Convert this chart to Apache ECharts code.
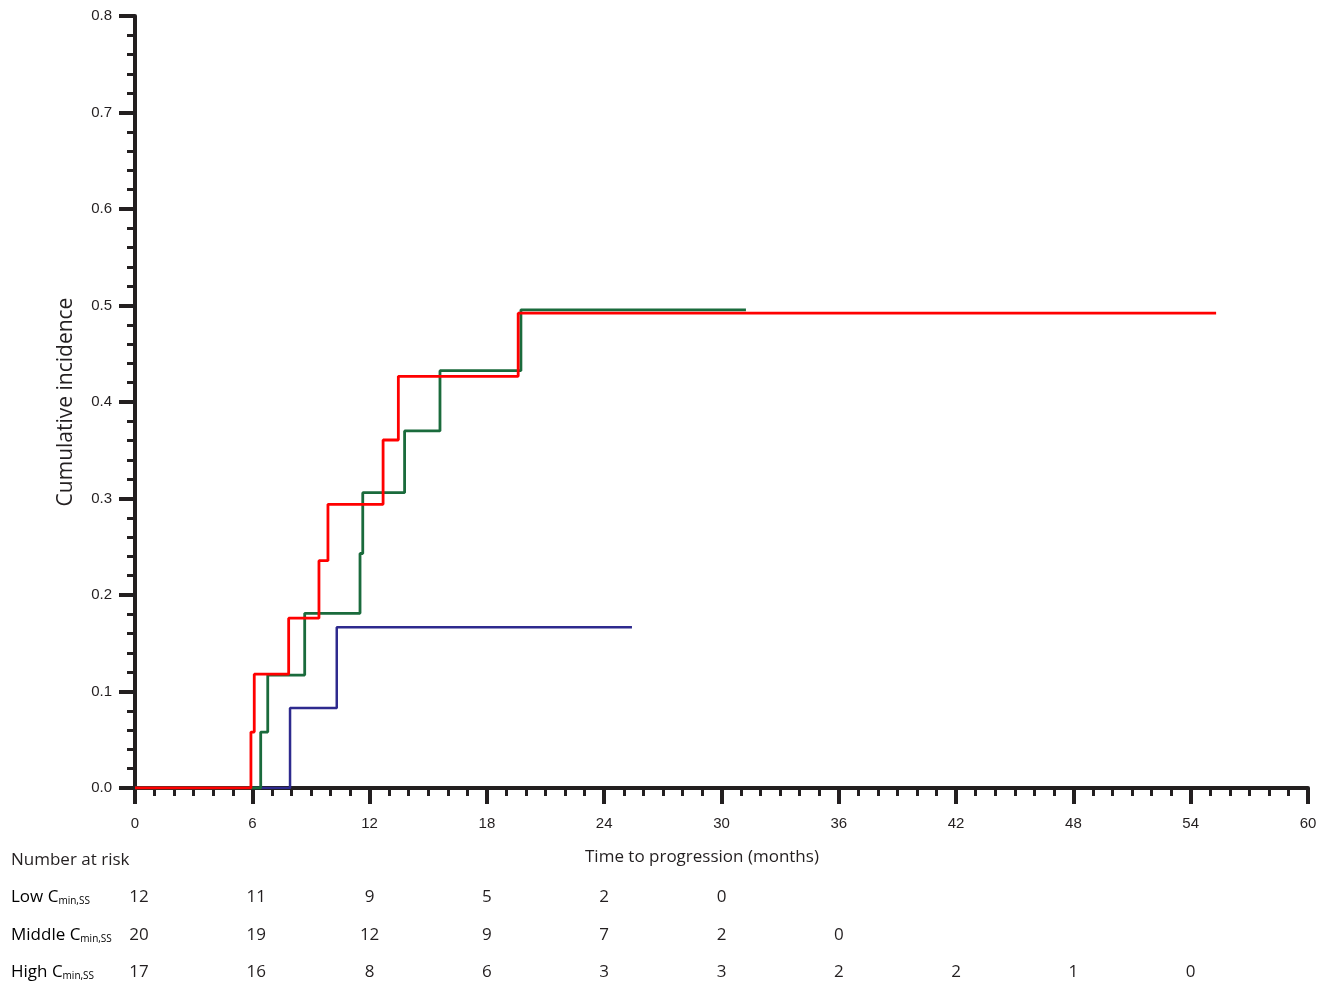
<!DOCTYPE html>
<html>
<head>
<meta charset="utf-8">
<script src="https://cdn.jsdelivr.net/npm/echarts@6/dist/echarts.min.js"></script>
<style>
  html, body { margin: 0; padding: 0; background: #fff; }
  #chart { width: 1329px; height: 984px; }
</style>
</head>
<body>
<div id="chart"></div>
<script>
// step points: time (months), cumulative incidence after that time
var lowTimes = [0, 7.93, 10.32, 25.42];
var lowValues = [0, 0.083, 0.1665, 0.1665];
var midTimes = [0, 6.43, 6.79, 8.68, 11.51, 11.65, 13.79, 15.6, 19.74, 31.25];
var midValues = [0, 0.058, 0.117, 0.181, 0.243, 0.306, 0.37, 0.4325, 0.4955, 0.4955];
var highTimes = [0, 5.93, 6.1, 7.86, 9.41, 9.87, 12.69, 13.47, 19.6, 55.3];
var highValues = [0, 0.058, 0.118, 0.176, 0.2356, 0.294, 0.3606, 0.4266, 0.492, 0.492];

// number at risk table
var riskTimes = [0, 6, 12, 18, 24, 30, 36, 42, 48, 54];
var riskLow = [12, 11, 9, 5, 2, 0];
var riskMid = [20, 19, 12, 9, 7, 2, 0];
var riskHigh = [17, 16, 8, 6, 3, 3, 2, 2, 1, 0];
var riskLabels = ["Low", "Middle", "High"];

var ink = "#231f20";

function pairs(ts, vs) {
    return ts.map(function (t, i) { return [t, vs[i]]; });
}

var chart = echarts.init(document.getElementById("chart"));

var option = {
    animation: false,
    grid: { left: 135, right: 21, top: 16, bottom: 196 },
    xAxis: {
        type: "value",
        min: 0, max: 60, interval: 6,
        axisLine: { lineStyle: { color: ink, width: 4 } },
        axisTick: { show: true, length: 16, lineStyle: { color: ink, width: 4 } },
        minorTick: { show: true, splitNumber: 6, length: 8, lineStyle: { color: ink, width: 3 } },
        splitLine: { show: false },
        axisLabel: { margin: 28, color: ink, fontSize: 15, fontFamily: "Liberation Sans" }
    },
    yAxis: {
        type: "value",
        min: 0, max: 0.8, interval: 0.1,
        name: "Cumulative incidence",
        nameLocation: "middle",
        nameGap: 58,
        nameTextStyle: { color: ink, fontSize: 21, fontFamily: "Open Sans" },
        axisLine: { show: true, lineStyle: { color: ink, width: 4 } },
        axisTick: { show: true, length: 16, lineStyle: { color: ink, width: 4 } },
        minorTick: { show: true, splitNumber: 5, length: 8, lineStyle: { color: ink, width: 3 } },
        splitLine: { show: false },
        axisLabel: {
            margin: 23, color: ink, fontSize: 15, fontFamily: "Liberation Sans",
            formatter: function (v) { return v.toFixed(1); }
        }
    },
    series: [
        {
            name: "Low", type: "line", step: "end", showSymbol: false, symbol: "none",
            data: pairs(lowTimes, lowValues),
            lineStyle: { color: "#2e2a8e", width: 2.5 }, z: 3
        },
        {
            name: "Middle", type: "line", step: "end", showSymbol: false, symbol: "none",
            data: pairs(midTimes, midValues),
            lineStyle: { color: "#1a6b3c", width: 2.8 }, z: 4
        },
        {
            name: "High", type: "line", step: "end", showSymbol: false, symbol: "none",
            data: pairs(highTimes, highValues),
            lineStyle: { color: "#ff0000", width: 2.8 }, z: 5
        }
    ]
};
chart.setOption(option);

// text below the plot: axis title and number at risk table
var txtFont = "Open Sans";
var rows = [riskLow, riskMid, riskHigh];
var rowY = [897, 935, 972];
var graphics = [];

var xMid = chart.convertToPixel({ gridIndex: 0 }, [29, 0])[0];
graphics.push({
    type: "text", x: xMid, y: 857,
    style: { text: "Time to progression (months)", fill: ink, font: "17px " + txtFont, align: "center", verticalAlign: "middle" }
});
graphics.push({
    type: "text", x: 11, y: 860,
    style: { text: "Number at risk", fill: ink, font: "17px " + txtFont, verticalAlign: "middle" }
});

rows.forEach(function (vals, r) {
    graphics.push({
        type: "text", x: 11, y: rowY[r],
        style: {
            text: "{n|" + riskLabels[r] + " C}{s|min,SS}",
            verticalAlign: "middle",
            rich: {
                n: { fontSize: 17, fontFamily: txtFont, color: ink },
                s: { fontSize: 10, fontFamily: txtFont, color: ink, padding: [9, 0, 0, 0] }
            }
        }
    });
    vals.forEach(function (v, i) {
        var px = chart.convertToPixel({ gridIndex: 0 }, [riskTimes[i], 0])[0];
        graphics.push({
            type: "text", x: px + (i < 2 ? 4 : 0), y: rowY[r],
            style: { text: String(v), fill: ink, font: "17px " + txtFont, align: "center", verticalAlign: "middle" }
        });
    });
});

chart.setOption({ graphic: graphics });

window.addEventListener("resize", function () {
    chart.resize();
});
</script>
</body>
</html>
